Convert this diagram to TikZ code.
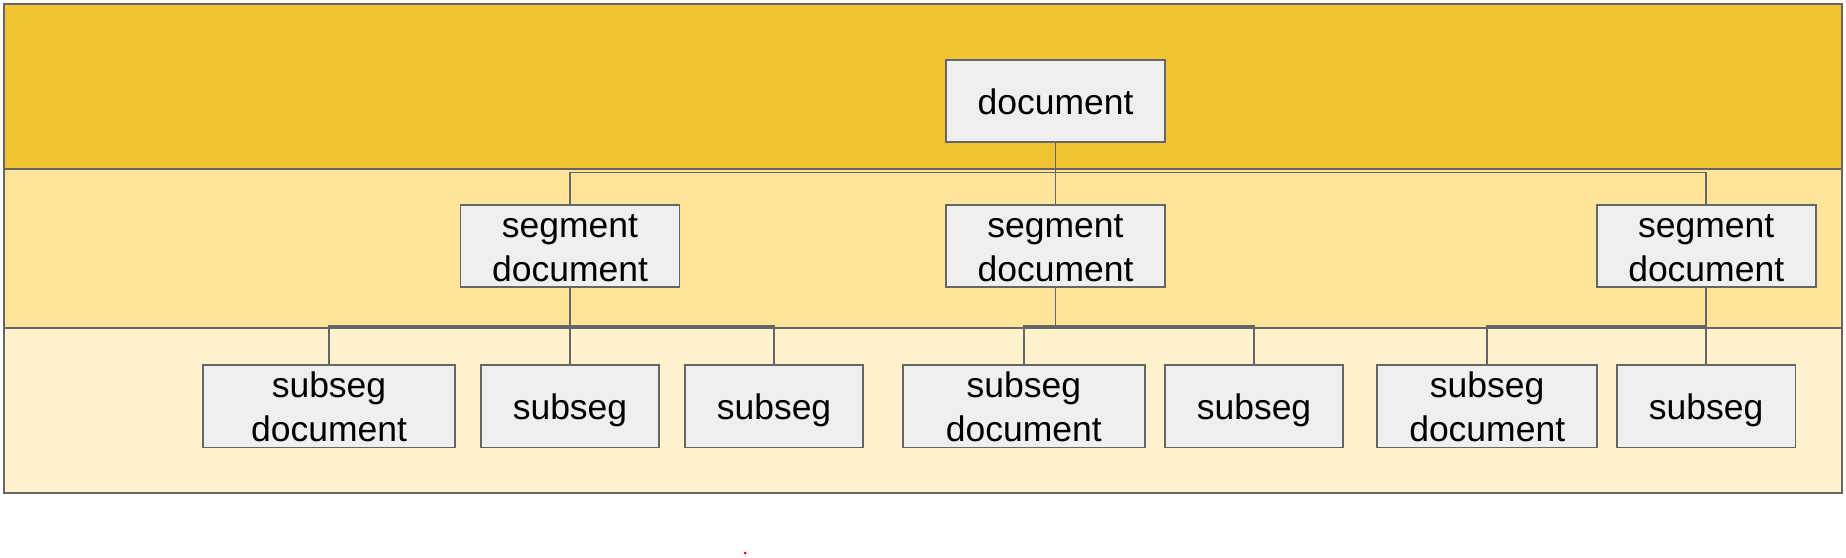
\documentclass[tikz,border=0pt]{standalone}
\usepackage{fontspec}
\setmainfont{Liberation Sans}
\definecolor{bandA}{HTML}{F1C232}
\definecolor{bandB}{HTML}{FFE599}
\definecolor{bandC}{HTML}{FFF2CC}
\definecolor{boxfill}{HTML}{EFEFEF}
\definecolor{linegray}{HTML}{666666}
\newcommand{\firststrut}{\rule{0pt}{27pt}}
\begin{document}
\begin{tikzpicture}[x=1pt,y=-1pt,
  band/.style={draw=linegray,line width=2pt},
  docbox/.style={draw=linegray,fill=boxfill,line width=1.6pt,inner sep=0pt,
    minimum height=82pt,align=center,
    font=\fontsize{35.5}{44}\selectfont},
  oneline/.style={docbox,text height=27pt,text depth=0pt},
  conn/.style={draw=linegray,line width=1.8pt}]
\useasboundingbox (0,0) rectangle (1846,557);
% bands
\path[band,fill=bandA] (4,4) rectangle (1842,168.5);
\path[band,fill=bandB] (4,168.5) rectangle (1842,327.5);
\path[band,fill=bandC] (4,327.5) rectangle (1842,492.5);
% nodes
\node[oneline,minimum width=219pt] (doc) at (1055.5,100.7) {document};
\node[docbox,minimum width=219pt] (seg1) at (570,246) {\firststrut segment\\document};
\node[docbox,minimum width=219pt] (seg2) at (1055.5,246) {\firststrut segment\\document};
\node[docbox,minimum width=219pt] (seg3) at (1706.2,246) {\firststrut segment\\document};
\node[docbox,minimum width=252pt,minimum height=82.6pt] (sub1) at (329,406.3) {\firststrut subseg\\document};
\node[oneline,minimum width=178pt,minimum height=82.6pt] (sub2) at (570,406.3) {subseg};
\node[oneline,minimum width=178pt,minimum height=82.6pt] (sub3) at (774,406.3) {subseg};
\node[docbox,minimum width=242pt,minimum height=82.6pt] (sub4) at (1023.8,406.3) {\firststrut subseg\\document};
\node[oneline,minimum width=178pt,minimum height=82.6pt] (sub5) at (1254,406.3) {subseg};
\node[docbox,minimum width=220pt,minimum height=82.6pt] (sub6) at (1487.2,406.3) {\firststrut subseg\\document};
\node[oneline,minimum width=178.4pt,minimum height=82.6pt] (sub7) at (1706.2,406.3) {subseg};
% junctions
\coordinate (j0) at (1055.5,172.5);
\coordinate (j1) at (570,326);
\coordinate (j2) at (1055.5,326);
\coordinate (j3) at (1706.2,326);
% connectors
\draw[conn] (doc.south) -- (j0);
\draw[conn] (seg1.north) |- (j0) -| (seg3.north);
\draw[conn] (j0) -- (seg2.north);
\draw[conn] (seg1.south) -- (j1);
\draw[conn] (sub1.north) |- (j1) -| (sub3.north);
\draw[conn] (j1) -- (sub2.north);
\draw[conn] (seg2.south) -- (j2);
\draw[conn] (sub4.north) |- (j2) -| (sub5.north);
\draw[conn] (seg3.south) -- (j3);
\draw[conn] (sub6.north) |- (j3) -- (sub7.north);
% small red mark
\fill[red] (745,553) circle (1.5pt);
\end{tikzpicture}
\end{document}
